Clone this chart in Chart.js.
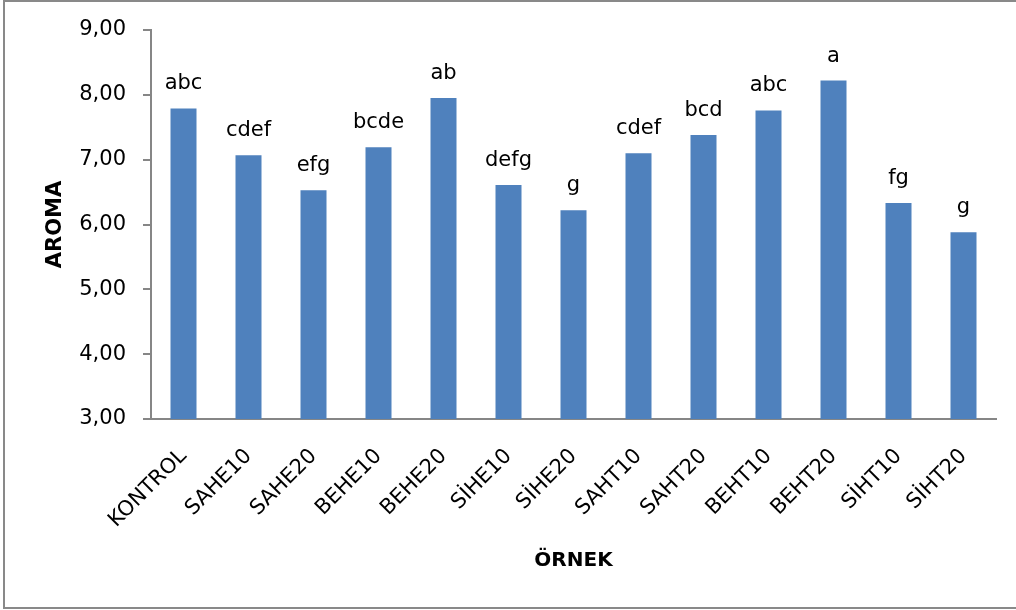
<!DOCTYPE html>
<html>
<head>
<meta charset="utf-8">
<script src="https://cdn.jsdelivr.net/npm/chart.js@4/dist/chart.umd.min.js"></script>
<style>
  body { margin: 0; background: #fff; }
  #wrap { width: 1016px; height: 610px; }
</style>
</head>
<body>
<div id="wrap"><canvas id="aromaChart" width="1016" height="610"></canvas></div>
<script>
const samples = ['KONTROL', 'SAHE10', 'SAHE20', 'BEHE10', 'BEHE20', 'SİHE10', 'SİHE20',
                 'SAHT10', 'SAHT20', 'BEHT10', 'BEHT20', 'SİHT10', 'SİHT20'];
const aromaScores = [7.79, 7.07, 6.53, 7.19, 7.95, 6.61, 6.22, 7.10, 7.38, 7.76, 8.22, 6.33, 5.88];
const groupLetters = ['abc', 'cdef', 'efg', 'bcde', 'ab', 'defg', 'g', 'cdef', 'bcd', 'abc', 'a', 'fg', 'g'];
const yTicks = [3, 4, 5, 6, 7, 8, 9];

const fontFamily = '"DejaVu Sans", sans-serif';
const axisGray = '#868686';

// white background + grey frame round the chart
const framePlugin = {
    id: 'frame',
    beforeDraw(chart) {
        const c = chart.ctx;
        c.save();
        c.fillStyle = '#fff';
        c.fillRect(0, 0, chart.width, chart.height);
        c.strokeStyle = '#898989';
        c.lineWidth = 2;
        c.strokeRect(4, 1, chart.width + 10, 607);
        c.restore();
    }
};

// letter groups above the bars
const letterPlugin = {
    id: 'letters',
    afterDatasetsDraw(chart) {
        const c = chart.ctx;
        const bars = chart.getDatasetMeta(0).data;
        c.save();
        c.font = '21px ' + fontFamily;
        c.fillStyle = '#000';
        c.textAlign = 'center';
        c.textBaseline = 'alphabetic';
        bars.forEach((bar, i) => {
            c.fillText(groupLetters[i], bar.x, bar.y - 19);
        });
        c.restore();
    }
};

new Chart(document.getElementById('aromaChart'), {
    type: 'bar',
    data: {
        labels: samples,
        datasets: [{
            data: aromaScores,
            backgroundColor: '#4F81BD',
            barPercentage: 0.4,
            categoryPercentage: 1.0
        }]
    },
    options: {
        responsive: false,
        animation: false,
        devicePixelRatio: 1,
        layout: { padding: { left: 43, top: 30, right: 20, bottom: 30 } },
        plugins: { legend: { display: false }, tooltip: { enabled: false } },
        scales: {
            x: {
                grid: { display: false, drawTicks: false },
                border: { color: axisGray, width: 2 },
                ticks: {
                    color: '#000',
                    font: { family: fontFamily, size: 21 },
                    minRotation: 45,
                    maxRotation: 45,
                    padding: 25
                },
                title: {
                    display: true,
                    text: 'ÖRNEK',
                    color: '#000',
                    font: { family: fontFamily, size: 20, weight: 'bold' },
                    padding: { top: 0, bottom: 7 }
                },
                afterFit(scale) { scale.height = 161; }
            },
            y: {
                min: 3,
                max: 9,
                afterBuildTicks(scale) { scale.ticks = yTicks.map(v => ({ value: v })); },
                grid: { drawOnChartArea: false, drawTicks: true, tickLength: 8, color: axisGray, lineWidth: 2 },
                border: { color: axisGray, width: 2 },
                ticks: {
                    color: '#000',
                    font: { family: fontFamily, size: 21 },
                    padding: 17,
                    callback: v => v.toFixed(2).replace('.', ',')
                },
                title: {
                    display: true,
                    text: 'AROMA',
                    color: '#000',
                    font: { family: fontFamily, size: 21, weight: 'bold' },
                    padding: 0
                },
                afterFit(scale) { scale.width = 108; }
            }
        }
    },
    plugins: [framePlugin, letterPlugin]
});
</script>
</body>
</html>
